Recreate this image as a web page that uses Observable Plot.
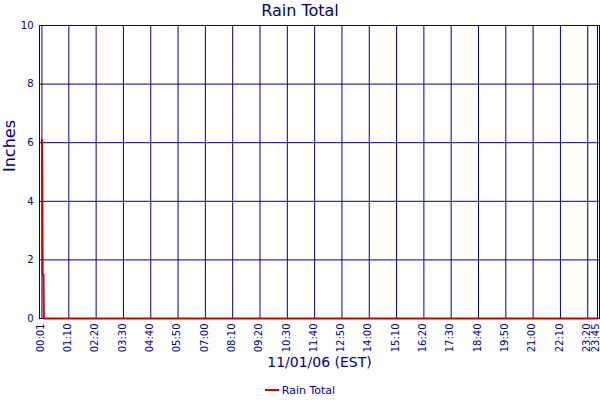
<!DOCTYPE html>
<html>
<head>
<meta charset="utf-8">
<script src="https://cdn.jsdelivr.net/npm/d3@7"></script>
<script src="https://cdn.jsdelivr.net/npm/@observablehq/plot@0.6"></script>
<style>
  html, body { margin: 0; padding: 0; background: white; }
  body { width: 600px; height: 400px; overflow: hidden; font-family: "DejaVu Sans", Verdana, sans-serif; color: #000080; }
  #title { height: 20px; line-height: 21px; font-size: 16px; text-align: center; }
  #chart svg { display: block; }
  #legend { height: 20px; display: flex; justify-content: center; align-items: center; font-size: 11px; }
  #legend .swatch { width: 14px; height: 2px; background: #cc0000; margin-right: 3px; }
</style>
</head>
<body>
<div id="title">Rain Total</div>
<div id="chart"></div>
<div id="legend"><span class="swatch"></span><span>Rain Total</span></div>
<script>
// Data
const times = ["00:01", "00:02", "00:03", "00:05", "00:06", "12:00", "23:45"];
const rainTotal = [6.1, 4.6, 1.5, 1.5, 0, 0, 0];
const xTickLabels = ["00:01", "01:10", "02:20", "03:30", "04:40", "05:50", "07:00", "08:10",
  "09:20", "10:30", "11:40", "12:50", "14:00", "15:10", "16:20", "17:30", "18:40",
  "19:50", "21:00", "22:10", "23:20", "23:45"];
const yTicks = [0, 2, 4, 6, 8, 10];

const parse = d3.utcParse("%H:%M");
const fmt = d3.utcFormat("%H:%M");
const data = times.map((t, i) => ({time: parse(t), value: rainTotal[i]}));
const xTicks = xTickLabels.map(parse);
const lastTick = xTicks.slice(-1);
const innerTicks = xTicks.slice(0, -1);
const navy = "#000080";

const chart = Plot.plot({
  width: 600,
  height: 360,
  marginTop: 5,
  marginBottom: 62,
  marginLeft: 39,
  marginRight: 1,
  style: {fontFamily: "'DejaVu Sans', Verdana, sans-serif", fontSize: "10px", color: navy, background: "white"},
  x: {type: "utc", domain: [xTicks[0], xTicks[xTicks.length - 1]], insetLeft: 2.4, insetRight: 2},
  y: {domain: [0, 10]},
  marks: [
    Plot.gridY(yTicks, {stroke: navy, strokeOpacity: 1}),
    Plot.gridX(xTicks, {stroke: navy, strokeOpacity: 1}),
    Plot.frame({stroke: navy}),
    Plot.axisY(yTicks, {tickSize: 0, tickPadding: 6, label: null, fill: navy}),
    Plot.axisX(innerTicks, {tickSize: 0, tickPadding: 5, tickRotate: -90, tickFormat: fmt, label: null, fill: navy, dx: -1}),
    Plot.axisX(lastTick, {tickSize: 0, tickPadding: 5, tickRotate: -90, tickFormat: fmt, label: null, fill: navy, dx: -2}),
    Plot.line(data, {x: "time", y: "value", stroke: "#cc0000", strokeWidth: 2}),
    Plot.text(["11/01/06 (EST)"], {text: d => d, frameAnchor: "bottom", dy: 48, fontSize: 14, fill: navy}),
    Plot.text(["Inches"], {text: d => d, frameAnchor: "left", dx: -30, rotate: -90, fontSize: 16, fill: navy})
  ]
});
document.getElementById("chart").appendChild(chart);
</script>
</body>
</html>
